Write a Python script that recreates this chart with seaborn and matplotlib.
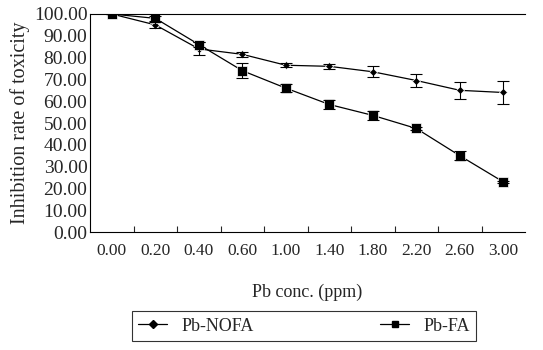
import numpy as np
import pandas as pd
import matplotlib
matplotlib.use('Agg')
import matplotlib.pyplot as plt
import seaborn as sns

conc = ['0.00', '0.20', '0.40', '0.60', '1.00', '1.40', '1.80', '2.20', '2.60', '3.00']
nofa = [100.0, 95.0, 84.0, 81.5, 76.5, 76.0, 73.5, 69.5, 65.0, 64.0]
nofa_err = [0.0, 1.5, 3.0, 1.0, 1.0, 1.0, 2.5, 3.0, 4.0, 5.5]
fa = [100.0, 98.0, 86.0, 74.0, 66.0, 58.5, 53.5, 47.5, 35.0, 23.0]
fa_err = [0.0, 1.0, 1.0, 3.5, 2.0, 2.0, 2.0, 0.5, 2.0, 0.5]

sns.set_style('white')
plt.rcParams['font.family'] = ['Liberation Serif', 'DejaVu Serif']

pos = np.arange(len(conc))
df = pd.DataFrame({
    'pos': np.concatenate([pos, pos]),
    'val': nofa + fa,
    'series': ['Pb-NOFA'] * len(conc) + ['Pb-FA'] * len(conc),
})

fig = plt.figure(figsize=(5.43, 3.5), dpi=100)
ax = fig.add_axes([0.166, 0.337, 0.801, 0.623])

sns.lineplot(data=df, x='pos', y='val', hue='series', style='series',
             markers={'Pb-NOFA': 'D', 'Pb-FA': 's'}, dashes=False,
             palette={'Pb-NOFA': 'black', 'Pb-FA': 'black'},
             linewidth=0.9, ax=ax, legend=False)
for line, ms in zip(ax.lines, [4, 6.5]):
    line.set_markersize(ms)
    line.set_markeredgewidth(0.5)

ax.errorbar(pos, nofa, yerr=nofa_err, fmt='none', ecolor='black', elinewidth=0.8, capsize=4, capthick=0.8)
ax.errorbar(pos, fa, yerr=fa_err, fmt='none', ecolor='black', elinewidth=0.8, capsize=4, capthick=0.8)

ax.set_xlim(-0.5, 9.5)
ax.set_ylim(0, 100)
ax.set_yticks(np.arange(0, 101, 10))
ax.set_yticklabels([f'{v:.2f}' for v in np.arange(0, 101, 10)], fontsize=14)
ax.set_xticks(np.arange(0.5, 9.5, 1))
ax.set_xticklabels([])
ax.set_xticks(pos, minor=True)
ax.set_xticklabels(conc, minor=True, fontsize=12.5)
ax.tick_params(axis='x', which='major', direction='in', length=4, width=0.8, bottom=True)
ax.tick_params(axis='x', which='minor', length=0, pad=8)
ax.tick_params(axis='y', length=0, pad=2)

for s in ['left', 'bottom', 'top']:
    ax.spines[s].set_color('black')
    ax.spines[s].set_linewidth(0.8)
ax.spines['right'].set_visible(False)

ax.set_xlabel('Pb conc. (ppm)', fontsize=13, labelpad=18)
ax.set_ylabel('Inhibition rate of toxicity', fontsize=14.5, labelpad=3)

handles = [
    plt.Line2D([], [], color='black', marker='D', markersize=4, linewidth=0.9),
    plt.Line2D([], [], color='black', marker='s', markersize=5, linewidth=0.9),
]
leg = fig.legend(handles, ['Pb-NOFA', 'Pb-FA'], loc='lower center', bbox_to_anchor=(0.56, 0.0),
                 ncol=2, frameon=True, fancybox=False, edgecolor='black', fontsize=13,
                 handlelength=1.6, columnspacing=7.0, borderpad=0.35)
leg.get_frame().set_linewidth(0.8)

fig.savefig('out.png', dpi=100)
